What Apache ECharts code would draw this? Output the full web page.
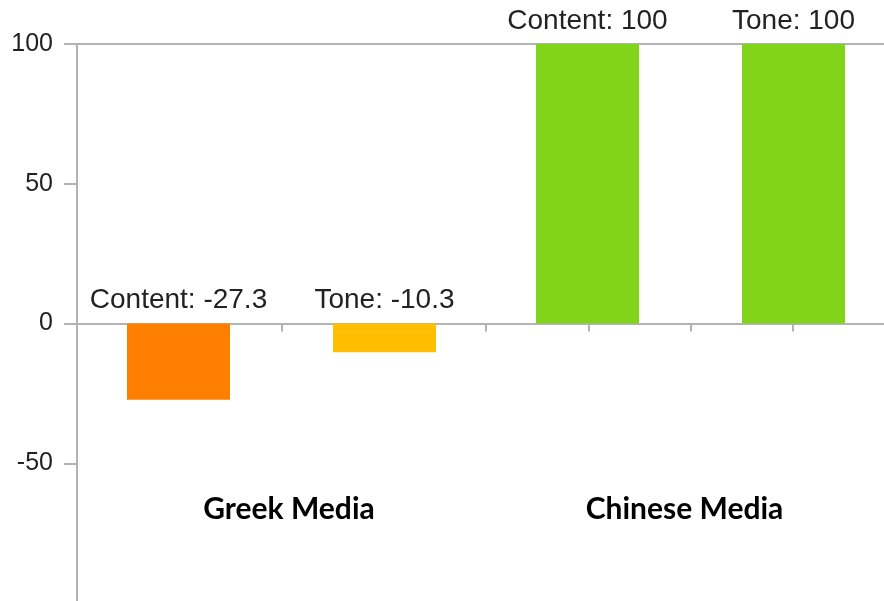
<!DOCTYPE html>
<html>
<head>
<meta charset="utf-8">
<script src="https://cdn.jsdelivr.net/npm/echarts@6/dist/echarts.min.js"></script>
<style>
html,body{margin:0;padding:0;background:#fff;}
#chart{width:884px;height:601px;}
</style>
</head>
<body>
<div id="chart"></div>
<script>
var categories = ['Greek Media', 'Chinese Media'];
var contentValues = [-27.3, 100];
var toneValues = [-10.3, 100];
var contentColors = ['#ff8000', '#81d41a'];
var toneColors = ['#ffbf00', '#81d41a'];
var yTicks = [-100, -50, 0, 50, 100];

var axisGray = '#b3b3b3';
var labelFont = '"Liberation Sans", Arial, sans-serif';

function mkData(vals, cols) {
  return vals.map(function (v, i) { return { value: v, itemStyle: { color: cols[i] } }; });
}

var chart = echarts.init(document.getElementById('chart'), null, { renderer: 'canvas' });
chart.setOption({
  animation: false,
  backgroundColor: '#ffffff',
  grid: { left: 77, top: 44, width: 818, height: 559, containLabel: false, outerBoundsMode: 'none' },
  xAxis: [
    {
      type: 'category',
      data: categories,
      position: 'bottom',
      axisLine: { show: true, onZero: true, onZeroAxisIndex: 0, lineStyle: { color: axisGray, width: 2 } },
      axisTick: { show: false },
      axisLabel: { show: false },
      splitLine: { show: false }
    },
    {
      type: 'category',
      data: ['', '', '', '', '', '', '', ''],
      position: 'bottom',
      axisLine: { show: false, onZero: true, onZeroAxisIndex: 0 },
      axisTick: { show: true, length: 8, lineStyle: { color: axisGray, width: 2 } },
      axisLabel: { show: false },
      splitLine: { show: false }
    },
    {
      type: 'category',
      data: categories,
      position: 'top',
      axisLine: { show: true, onZero: false, lineStyle: { color: axisGray, width: 2 } },
      axisTick: { show: false },
      axisLabel: { show: false },
      splitLine: { show: false }
    }
  ],
  yAxis: {
    type: 'value',
    min: yTicks[0],
    max: yTicks[yTicks.length - 1],
    interval: 50,
    axisLine: { show: true, lineStyle: { color: axisGray, width: 2 } },
    axisTick: { show: true, inside: false, length: 13, lineStyle: { color: axisGray, width: 2 } },
    axisLabel: { margin: 24, fontFamily: labelFont, fontSize: 25, color: '#222', showMinLabel: false },
    splitLine: { show: false }
  },
  graphic: [
    { type: 'text', x: 289, y: 509, style: { text: categories[0], fontFamily: 'Lato', fontWeight: 'bold', fontSize: 30, fill: '#000', align: 'center', verticalAlign: 'middle' } },
    { type: 'text', x: 684.5, y: 509, style: { text: categories[1], fontFamily: 'Lato', fontWeight: 'bold', fontSize: 30, fill: '#000', align: 'center', verticalAlign: 'middle' } }
  ],
  series: [
    {
      name: 'Content',
      type: 'bar',
      xAxisIndex: 0,
      data: mkData(contentValues, contentColors),
      barWidth: 103,
      barGap: '100%',
      label: {
        show: true, position: 'top', distance: 9,
        fontFamily: labelFont, fontSize: 28, color: '#222',
        formatter: function (p) { return p.seriesName + ': ' + p.value; }
      }
    },
    {
      name: 'Tone',
      type: 'bar',
      xAxisIndex: 0,
      data: mkData(toneValues, toneColors),
      barWidth: 103,
      barGap: '100%',
      label: {
        show: true, position: 'top', distance: 9,
        fontFamily: labelFont, fontSize: 28, color: '#222',
        formatter: function (p) { return p.seriesName + ': ' + p.value; }
      }
    }
  ]
});
</script>
</body>
</html>
